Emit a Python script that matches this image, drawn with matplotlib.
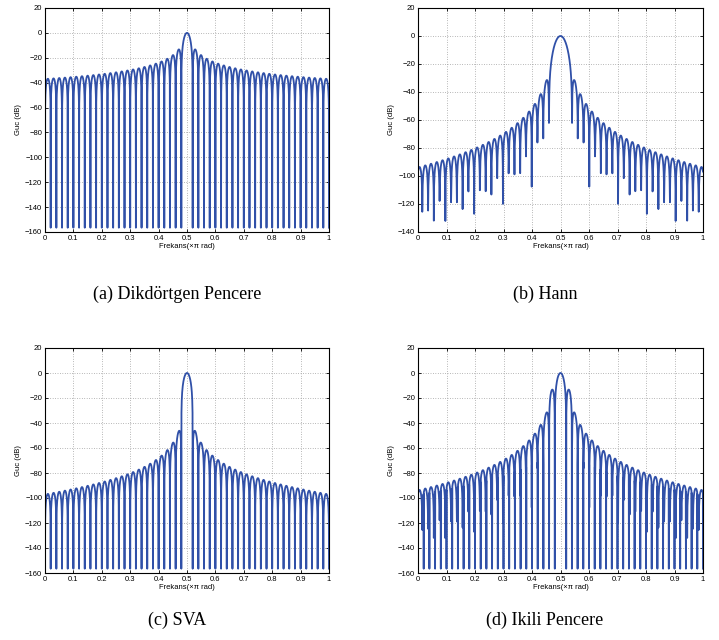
import numpy as np
import matplotlib.pyplot as plt

# sinyal: N ornekli, 0.5*pi rad frekansli karmasik sinus
N = 100
F0 = 0.5
NFREQ = 2001
YLIMS = [(-160, 20), (-140, 20), (-160, 20), (-160, 20)]
YTICKS = [np.arange(-160, 21, 20), np.arange(-140, 21, 20),
          np.arange(-160, 21, 20), np.arange(-160, 21, 20)]
XTICKS = np.arange(0, 1.01, 0.1)
CAPTIONS = ['(a) Dikdörtgen Pencere', '(b) Hann', '(c) SVA', '(d) Ikili Pencere']

n = np.arange(N)
w = np.linspace(0, np.pi, NFREQ)
sig = np.exp(1j * np.pi * F0 * n)


def dtft(x, om):
    return np.exp(-1j * np.outer(om, np.arange(len(x)))) @ x


def to_db(X):
    return 10 * np.log10(np.abs(X) ** 2 + np.finfo(float).eps)


hann = np.hanning(N)
Xr = dtft(sig, w) / N
Xh = dtft(sig * hann, w) / hann.sum()

# SVA: X - a*(X(k-1) + X(k+1)), a gercel, 0 <= a <= 0.5
S = dtft(sig, w - 2 * np.pi / N) / N + dtft(sig, w + 2 * np.pi / N) / N
S2 = np.abs(S) ** 2
with np.errstate(divide='ignore', invalid='ignore'):
    a = np.where(S2 > 1e-30, np.real(Xr * np.conj(S)) / S2, 0.0)
a = np.clip(a, 0.0, 0.5)
Xs = Xr - a * S

# ikili pencere
mainlobe = np.abs(w / np.pi - F0) < 4.0 / (N - 1)
Xd = np.where(mainlobe, np.abs(Xr), np.minimum(np.abs(Xr), np.abs(Xh)))

curves = [to_db(Xr), to_db(Xh), to_db(Xs), to_db(Xd)]
freq = w / np.pi

fig = plt.figure(figsize=(7.19, 6.4), dpi=100)
W, H = 719.0, 640.0
boxes = [(45, 8, 329, 232), (418, 8, 703, 232),
         (45, 348, 329, 573), (418, 348, 703, 573)]
capx = [177, 545, 177, 545]
capy = [294, 294, 620, 620]

for i in range(4):
    x0, y0, x1, y1 = boxes[i]
    ax = fig.add_axes([x0 / W, 1 - y1 / H, (x1 - x0) / W, (y1 - y0) / H])
    ax.plot(freq, curves[i], color='#3050a8', lw=1.3)
    ax.set_xlim(0, 1)
    ax.set_ylim(*YLIMS[i])
    ax.set_xticks(XTICKS)
    ax.set_xticklabels(['0', '0.1', '0.2', '0.3', '0.4', '0.5', '0.6', '0.7', '0.8', '0.9', '1'])
    ax.set_yticks(YTICKS[i])
    ax.set_yticklabels([str(v).replace('-', '\u2212') for v in YTICKS[i]])
    ax.tick_params(direction='in', length=2.5, width=0.6, labelsize=5.5, pad=2,
                   top=True, right=True)
    for lab in ax.get_xticklabels() + ax.get_yticklabels():
        lab.set_family(['Liberation Sans', 'DejaVu Sans'])
    ax.grid(True, linestyle=(0, (1, 2.5)), color='#777777', linewidth=0.5)
    for sp in ax.spines.values():
        sp.set_linewidth(0.8)
    ax.set_xlabel('Frekans(\u00d7\u03c0 rad)', fontsize=5.5, labelpad=1,
                  family=['Liberation Sans', 'DejaVu Sans'])
    ax.set_ylabel('Guc (dB)', fontsize=5.5, labelpad=2,
                  family=['Liberation Sans', 'DejaVu Sans'])
    fig.text(capx[i] / W, 1 - capy[i] / H, CAPTIONS[i], ha='center', va='center',
             fontsize=13, family=['Liberation Serif', 'DejaVu Serif'])

fig.savefig('out.png', dpi=100)
